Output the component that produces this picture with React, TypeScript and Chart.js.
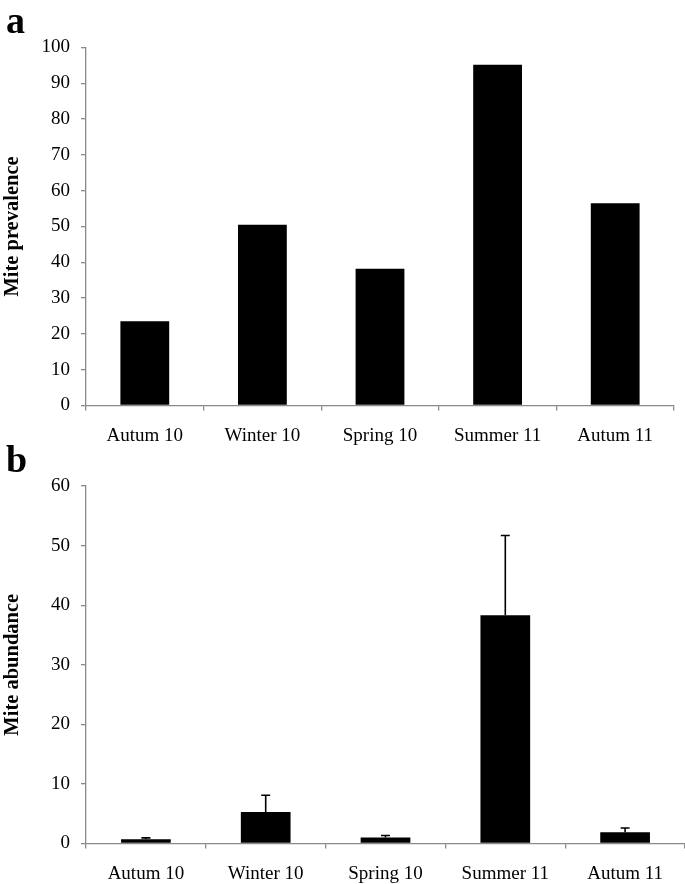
import React, { useEffect, useRef } from "react";
import { Chart, registerables } from "chart.js";

Chart.register(...registerables);

const categories = ["Autum 10", "Winter 10", "Spring 10", "Summer 11", "Autum 11"];
const prevalence = [23.5, 50.5, 38.2, 95.2, 56.5];
const abundance = [0.7, 5.3, 1.0, 38.3, 1.9];
const abundanceErr = [0.25, 2.8, 0.35, 13.4, 0.7];

const AXIS = "#8a8a8a";
const FONT = "'Liberation Serif', 'Times New Roman', serif";

const errorBarPlugin = {
  id: "errorBars",
  afterDatasetsDraw(chart: any, _args: any, opts: any) {
    const errs: number[] | undefined = opts && opts.errors;
    if (!errs) return;
    const meta = chart.getDatasetMeta(0);
    const yScale = chart.scales.y;
    const data = chart.data.datasets[0].data as number[];
    const ctx = chart.ctx;
    ctx.save();
    ctx.strokeStyle = "#000";
    ctx.lineWidth = 1.6;
    meta.data.forEach((bar: any, i: number) => {
      const x = bar.x;
      const y0 = yScale.getPixelForValue(data[i]);
      const y1 = yScale.getPixelForValue(data[i] + errs[i]);
      ctx.beginPath();
      ctx.moveTo(x, y0);
      ctx.lineTo(x, y1);
      ctx.moveTo(x - 4.5, y1);
      ctx.lineTo(x + 4.5, y1);
      ctx.stroke();
    });
    ctx.restore();
  },
};

function makeConfig(
  values: number[],
  max: number,
  step: number,
  title: string,
  padTop: number,
  padRight: number,
  xHeight: number,
  errors?: number[]
): any {
  return {
    type: "bar",
    data: {
      labels: categories,
      datasets: [
        {
          data: values,
          backgroundColor: "#000",
          borderWidth: 0,
          categoryPercentage: 1,
          barPercentage: 0.415,
        },
      ],
    },
    plugins: [errorBarPlugin],
    options: {
      animation: false,
      responsive: false,
      maintainAspectRatio: false,
      layout: { padding: { top: padTop, right: padRight, left: 0, bottom: 0 } },
      plugins: {
        legend: { display: false },
        tooltip: { enabled: false },
        errorBars: { errors },
      },
      scales: {
        x: {
          offset: true,
          grid: {
            display: true,
            offset: true,
            drawOnChartArea: false,
            drawTicks: true,
            tickLength: 5,
            color: AXIS,
            lineWidth: 1.3,
          },
          border: { display: true, color: AXIS, width: 1.3 },
          ticks: {
            color: "#000",
            font: { family: FONT, size: 19 },
            padding: 14,
            maxRotation: 0,
            autoSkip: false,
          },
          afterFit: (s: any) => {
            s.height = xHeight;
          },
        },
        y: {
          min: 0,
          max,
          grid: {
            display: true,
            drawOnChartArea: false,
            drawTicks: true,
            tickLength: 5,
            color: AXIS,
            lineWidth: 1.3,
          },
          border: { display: true, color: AXIS, width: 1.3 },
          ticks: {
            stepSize: step,
            color: "#000",
            font: { family: FONT, size: 19 },
            padding: 11,
          },
          title: {
            display: true,
            text: title,
            color: "#000",
            font: { family: FONT, size: 20.5, weight: "bold" },
            padding: { top: 0, bottom: 0 },
          },
          afterFit: (s: any) => {
            s.width = 86;
          },
        },
      },
    },
  };
}

function BarChart(props: { config: any; width: number; height: number }) {
  const ref = useRef<HTMLCanvasElement | null>(null);
  useEffect(() => {
    if (!ref.current) return;
    const chart = new Chart(ref.current, props.config);
    return () => chart.destroy();
  }, []);
  return (
    <canvas
      ref={ref}
      width={props.width}
      height={props.height}
      style={{ display: "block", width: props.width, height: props.height }}
    />
  );
}

const letterStyle: React.CSSProperties = {
  position: "absolute",
  left: 6,
  fontFamily: FONT,
  fontWeight: "bold",
  fontSize: 38,
  lineHeight: "38px",
  color: "#000",
};

export default function App() {
  const topCfg = makeConfig(prevalence, 100, 10, "Mite prevalence", 47.5, 11, 44.5);
  const botCfg = makeConfig(abundance, 60, 10, "Mite abundance", 36, 0, 40.5, abundanceErr);
  return (
    <div
      style={{
        position: "fixed",
        left: 0,
        top: 0,
        width: 685,
        height: 884,
        background: "#fff",
        overflow: "hidden",
      }}
    >
      <div style={{ position: "absolute", left: 0, top: 0 }}>
        <BarChart config={topCfg} width={685} height={450} />
      </div>
      <div style={{ position: "absolute", left: 0, top: 450 }}>
        <BarChart config={botCfg} width={685} height={434} />
      </div>
      <div style={{ ...letterStyle, top: 0.5 }}>a</div>
      <div style={{ ...letterStyle, top: 440 }}>b</div>
    </div>
  );
}
